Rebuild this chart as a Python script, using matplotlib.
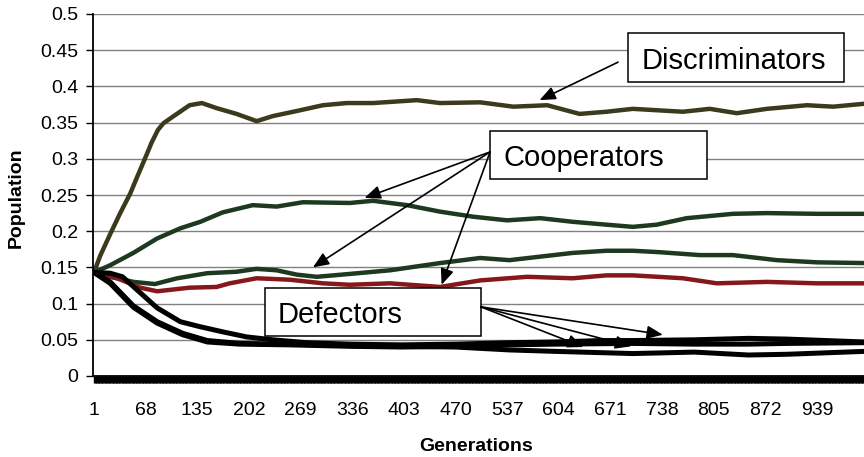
import matplotlib
matplotlib.use("Agg")
import matplotlib.pyplot as plt
from matplotlib.patches import Rectangle

plt.rcParams['font.family'] = ['Liberation Sans', 'DejaVu Sans']

# values (generation, population share)
gens_disc = [1, 9, 22, 35, 48, 57, 67, 76, 84, 91, 103, 125, 141, 160, 186, 212, 233, 264,
             298, 329, 363, 420, 450, 502, 545, 589, 631, 666, 700, 765, 800, 835, 874, 926,
             960, 1000]
disc = [0.143, 0.166, 0.196, 0.225, 0.252, 0.275, 0.300, 0.323, 0.340, 0.349, 0.358, 0.374,
        0.377, 0.370, 0.362, 0.352, 0.359, 0.366, 0.374, 0.377, 0.377, 0.381, 0.377, 0.378,
        0.372, 0.374, 0.362, 0.365, 0.369, 0.365, 0.369, 0.363, 0.369, 0.374, 0.372, 0.376]

gens_coop1 = [1, 22, 52, 83, 113, 139, 168, 207, 238, 272, 333, 363, 407, 450, 493, 537,
              580, 622, 666, 700, 731, 770, 830, 874, 939, 1000]
coop1 = [0.143, 0.153, 0.170, 0.190, 0.204, 0.213, 0.226, 0.236, 0.234, 0.240, 0.239, 0.242,
         0.236, 0.227, 0.220, 0.215, 0.218, 0.213, 0.209, 0.206, 0.209, 0.218, 0.224, 0.225,
         0.224, 0.224]

gens_coop2 = [1, 22, 52, 80, 109, 148, 186, 212, 238, 264, 290, 333, 385, 450, 502, 540,
              622, 666, 700, 735, 787, 830, 887, 939, 1000]
coop2 = [0.143, 0.137, 0.130, 0.127, 0.135, 0.142, 0.144, 0.148, 0.146, 0.140, 0.137, 0.141,
         0.146, 0.156, 0.163, 0.160, 0.170, 0.173, 0.173, 0.171, 0.167, 0.167, 0.160, 0.157,
         0.156]

gens_coop3 = [1, 31, 61, 83, 125, 160, 177, 212, 255, 298, 333, 385, 450, 502, 563, 622,
              666, 700, 765, 809, 874, 939, 1000]
coop3 = [0.143, 0.135, 0.122, 0.117, 0.122, 0.123, 0.128, 0.135, 0.133, 0.128, 0.126, 0.128,
         0.123, 0.132, 0.137, 0.135, 0.139, 0.139, 0.135, 0.128, 0.130, 0.128, 0.128]

gens_def1 = [1, 22, 38, 61, 83, 113, 139, 168, 199, 233, 277, 333, 400, 470, 540, 600,
             660, 700, 780, 850, 900, 950, 1000]
def1 = [0.143, 0.142, 0.137, 0.115, 0.094, 0.075, 0.068, 0.061, 0.054, 0.050, 0.046, 0.044,
        0.043, 0.044, 0.046, 0.047, 0.049, 0.049, 0.050, 0.052, 0.051, 0.049, 0.047]

gens_def = [1, 22, 52, 83, 116, 148, 190, 255, 333, 400, 470, 540, 600, 700, 780, 850, 900, 1000]
def2 = [0.143, 0.128, 0.095, 0.073, 0.057, 0.047, 0.044, 0.043, 0.041, 0.040, 0.041, 0.043,
        0.044, 0.045, 0.044, 0.044, 0.045, 0.046]
def3 = [0.143, 0.130, 0.097, 0.075, 0.059, 0.049, 0.045, 0.044, 0.042, 0.041, 0.040, 0.036,
        0.034, 0.031, 0.033, 0.029, 0.030, 0.034]

xtick_vals = list(range(1, 1000, 67))
ytick_vals = [0, 0.05, 0.1, 0.15, 0.2, 0.25, 0.3, 0.35, 0.4, 0.45, 0.5]
ytick_labels = ['0', '0.05', '0.1', '0.15', '0.2', '0.25', '0.3', '0.35', '0.4', '0.45', '0.5']

fig = plt.figure(figsize=(8.64, 4.57), dpi=100)
ax = fig.add_axes([93 / 864, 1 - 376 / 457, 771 / 864, 362 / 457])

ax.plot(gens_disc, disc, color='#3b3a1d', lw=3.2, solid_joinstyle='round')
ax.plot(gens_coop1, coop1, color='#1d3a20', lw=3.2, solid_joinstyle='round')
ax.plot(gens_coop2, coop2, color='#1d3a20', lw=3.2, solid_joinstyle='round')
ax.plot(gens_coop3, coop3, color='#86181b', lw=3.2, solid_joinstyle='round')
ax.plot(gens_def1, def1, color='black', lw=3.6, solid_joinstyle='round')
ax.plot(gens_def, def2, color='black', lw=3.6, solid_joinstyle='round')
ax.plot(gens_def, def3, color='black', lw=3.6, solid_joinstyle='round')

ax.set_xlim(-0.3, 1000)
ax.set_ylim(0, 0.5)
ax.set_yticks(ytick_vals)
ax.set_yticklabels(ytick_labels, fontsize=14)
ax.set_xticks(xtick_vals)
ax.set_xticklabels([str(v) for v in xtick_vals], fontsize=14)
ax.set_xticks(range(1, 1001), minor=True)
ax.tick_params(axis='x', which='both', length=5, width=1, color='black', pad=14)
ax.tick_params(axis='y', length=5, width=1, pad=5.5)

ax.yaxis.grid(True, color='#808080', lw=1)
ax.set_axisbelow(True)
for s in ['top', 'right']:
    ax.spines[s].set_visible(False)
ax.spines['left'].set_linewidth(1.3)
ax.spines['bottom'].set_linewidth(1.3)

ax.set_xlabel('Generations', fontsize=14, fontweight='bold')
ax.xaxis.label.set_va('baseline')
ax.xaxis.set_label_coords(0.497, -0.208)
ax.set_ylabel('Population', fontsize=14, fontweight='bold')
ax.yaxis.label.set_va('center')
ax.yaxis.set_label_coords(-0.0999, 0.493)

# label boxes (axes fraction)
boxes = [
    ('Discriminators', 0.694, 0.812, 0.280, 0.136, 0.712, 0.848),
    ('Cooperators', 0.515, 0.544, 0.281, 0.133, 0.532, 0.579),
    ('Defectors', 0.223, 0.110, 0.280, 0.133, 0.240, 0.146),
]
for txt, bx, by, bw, bh, tx, ty in boxes:
    ax.add_patch(Rectangle((bx, by), bw, bh, transform=ax.transAxes, facecolor='white',
                           edgecolor='black', lw=1.1, zorder=5))
    ax.text(tx, ty, txt, transform=ax.transAxes, fontsize=21, ha='left', va='baseline',
            zorder=6)

arrow = dict(arrowstyle='-|>,head_length=0.6,head_width=0.25', color='black', lw=1.2,
             mutation_scale=16, shrinkA=0, shrinkB=0)
arrows = [
    ((0.681, 0.867), (579, 0.381)),
    ((0.515, 0.619), (352, 0.246)),
    ((0.515, 0.619), (285, 0.150)),
    ((0.515, 0.619), (452, 0.126)),
    ((0.503, 0.191), (739, 0.057)),
    ((0.503, 0.191), (698, 0.041)),
    ((0.503, 0.191), (636, 0.040)),
]
for start, end in arrows:
    ax.annotate('', xy=end, xycoords='data', xytext=start, textcoords='axes fraction',
                arrowprops=arrow, zorder=7)

fig.savefig('out.png', dpi=100)
